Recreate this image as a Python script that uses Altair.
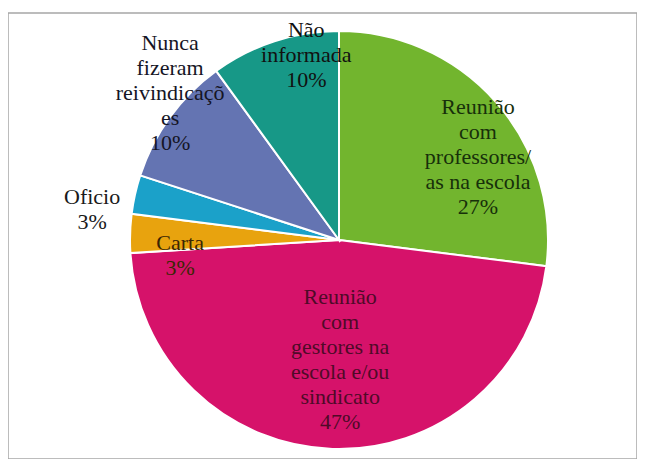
import altair as alt
import pandas as pd

categories = [
    "Reunião com professores/as na escola",
    "Reunião com gestores na escola e/ou sindicato",
    "Carta",
    "Oficio",
    "Nunca fizeram reivindicações",
    "Não informada",
]
values = [27, 47, 3, 3, 10, 10]
label_texts = [
    "Reunião\ncom\nprofessores/\nas na escola",
    "Reunião\ncom\ngestores na\nescola e/ou\nsindicato",
    "Carta",
    "Oficio",
    "Nunca\nfizeram\nreivindicaçõ\nes",
    "Não\ninformada",
]
colors = ["#72B52E", "#D6126A", "#E8A30E", "#1BA1C9", "#6474B2", "#179887"]

df = pd.DataFrame({
    "cat": categories,
    "value": values,
    "idx": list(range(len(categories))),
    "label": [f"{t}\n{v}%" for t, v in zip(label_texts, values)],
})

CX, CY, R = 331, 227, 209

base = alt.Chart(df).encode(
    theta=alt.Theta("value:Q", stack=True),
    order=alt.Order("idx:Q", sort="ascending"),
)

pie = base.mark_arc(radius=R, stroke="white", strokeWidth=2).encode(
    color=alt.Color("cat:N", scale=alt.Scale(domain=categories, range=colors), legend=None),
    x=alt.value(CX),
    y=alt.value(CY),
)

# (radius, dx, dy, text colour) for each label
label_style = [
    (160, 19, -27, "#17300a"),
    (122, 5, -65, "#4f0a28"),
    (159, 0, 8, "#3b2603"),
    (254, 1, 12, "#1a1a1a"),
    (210, 1, -74, "#151525"),
    (190, 26, -29, "#111111"),
]

texts = []
for i, (r, dx, dy, col) in enumerate(label_style):
    texts.append(
        base.mark_text(
            radius=r, dx=dx, dy=dy,
            font="Liberation Serif", fontSize=22, lineHeight=25,
            lineBreak="\n", align="center", baseline="middle", color=col,
        ).encode(
            text=alt.condition(f"datum.idx == {i}", alt.Text("label:N"), alt.value("")),
            x=alt.value(CX),
            y=alt.value(CY),
        )
    )

chart = alt.layer(pie, *texts).properties(
    width=629,
    height=446,
    padding={"top": 5, "left": 0, "right": 0, "bottom": 0},
    autosize=alt.AutoSizeParams(type="none"),
    background="white",
).configure_view(stroke="#A6A6A6", strokeWidth=1.5)

chart.save("out.html", embed_options={"renderer": "svg", "actions": False})
